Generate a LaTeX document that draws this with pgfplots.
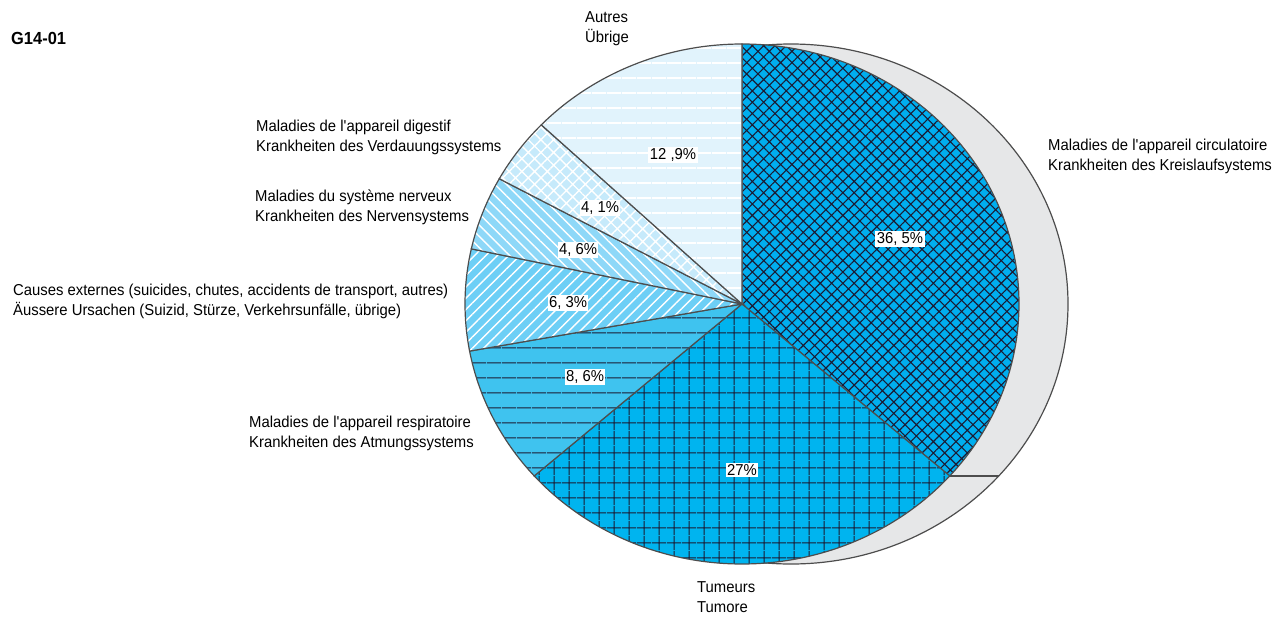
\documentclass[border=0pt]{standalone}
\usepackage{pgfplots}
\pgfplotsset{compat=1.18}
\usepackage{fontspec}
\setmainfont[FakeStretch=0.94]{Liberation Sans}
\usetikzlibrary{patterns.meta}

\definecolor{cCirc}{HTML}{00AEEF}
\definecolor{cTum}{HTML}{00B4EF}
\definecolor{cResp}{HTML}{3FC3EF}
\definecolor{cExt}{HTML}{6DCFF6}
\definecolor{cNerv}{HTML}{8ED8F8}
\definecolor{cDig}{HTML}{C6EAFB}
\definecolor{cAut}{HTML}{E1F3FC}
\definecolor{shade}{HTML}{E6E7E8}
\definecolor{edge}{HTML}{4D4D4D}
\definecolor{ink}{HTML}{1B1B33}

\tikzset{
  slice1/.style={preaction={fill=cCirc}, pattern={Hatch[angle=45,distance=8bp,line width=1.1bp]}, pattern color=ink},
  slice2/.style={preaction={fill=cTum}, pattern={Hatch[angle=0,distance=15bp,line width=1.1bp]}, pattern color=ink},
  slice3/.style={preaction={fill=cResp}, pattern={Lines[angle=0,distance=15bp,line width=1.1bp]}, pattern color=ink},
  slice4/.style={preaction={fill=cExt}, pattern={Lines[angle=45,distance=8bp,line width=1.4bp]}, pattern color=white},
  slice5/.style={preaction={fill=cNerv}, pattern={Lines[angle=-45,distance=8bp,line width=1.4bp]}, pattern color=white},
  slice6/.style={preaction={fill=cDig}, pattern={Hatch[angle=45,distance=9bp,line width=1.4bp]}, pattern color=white},
  slice7/.style={preaction={fill=cAut}, pattern={Lines[angle=0,distance=15bp,line width=2bp]}, pattern color=white},
  lbl/.style={anchor=west, inner sep=0pt, align=left, font=\fontsize{15.8bp}{20bp}\selectfont},
  pct/.style={fill=white, inner sep=1.5bp, font=\fontsize{15.8bp}{18bp}\selectfont},
}

\begin{document}
\begin{tikzpicture}
\useasboundingbox (0,0) rectangle (1283bp,617bp);
\begin{axis}[
    at={(0,0)}, anchor=south west,
    x=1bp, y=1bp,
    xmin=0, xmax=1283, ymin=0, ymax=617,
    y dir=reverse,
    hide axis, clip=false,
  ]
  \pgfplotsextra{
    \coordinate (C) at (axis cs:742,304);
    % grey side of the pie
    \draw[fill=shade, draw=edge, line width=1.2bp]
      ([xshift=49bp]C) ellipse [x radius=277bp, y radius=260bp];
    \gdef\curang{90}
    \foreach \v [count=\i] in {36.5,27,8.6,6.3,4.6,4.1,12.9} {
      \pgfmathsetmacro\e{\curang-3.6*\v}
      \fill[slice\i] (C) -- ++(\curang:277bp and 260bp)
        arc[start angle=\curang, end angle=\e, x radius=277bp, y radius=260bp] -- cycle;
      \draw[edge, line width=1.2bp] (C) -- ++(\curang:277bp and 260bp)
        arc[start angle=\curang, end angle=\e, x radius=277bp, y radius=260bp] -- cycle;
      \ifnum\i=1
        \draw[edge, line width=1.2bp] (C) ++(\e:277bp and 260bp) -- ++(49bp,0);
      \fi
      \xdef\curang{\e}
    }
  }
  % percentages
  \node[pct] at (axis cs:900,239) {36, 5\%};
  \node[pct] at (axis cs:742,470) {27\%};
  \node[pct] at (axis cs:585,377) {8, 6\%};
  \node[pct] at (axis cs:568,303) {6, 3\%};
  \node[pct] at (axis cs:578,250) {4, 6\%};
  \node[pct] at (axis cs:600,208) {4, 1\%};
  \node[pct] at (axis cs:673,155) {12 ,9\%};
  % category labels
  \node[lbl] at (axis cs:1048,156) {Maladies de l\textquotesingle appareil circulatoire\\Krankheiten des Kreislaufsystems};
  \node[lbl] at (axis cs:697,597) {Tumeurs\\Tumore};
  \node[lbl] at (axis cs:249,433) {Maladies de l\textquotesingle appareil respiratoire\\Krankheiten des Atmungssystems};
  \node[lbl] at (axis cs:13,301) {Causes externes (suicides, chutes, accidents de transport, autres)\\Äussere Ursachen (Suizid, Stürze, Verkehrsunfälle, übrige)};
  \node[lbl] at (axis cs:255,207) {Maladies du système nerveux\\Krankheiten des Nervensystems};
  \node[lbl] at (axis cs:256,137) {Maladies de l\textquotesingle appareil digestif\\Krankheiten des Verdauungssystems};
  \node[lbl] at (axis cs:585,29) {Autres\\Übrige};
  \node[anchor=west, inner sep=0pt, font=\fontsize{17.5bp}{20bp}\selectfont\bfseries] at (axis cs:11,38) {G14-01};
\end{axis}
\end{tikzpicture}
\end{document}
